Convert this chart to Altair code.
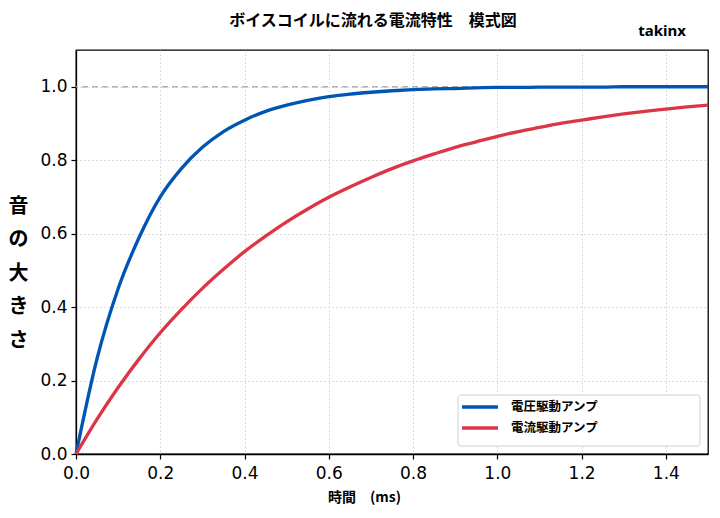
import altair as alt
import pandas as pd

# time (ms)
t_ms = [0.0, 0.05, 0.1, 0.15, 0.2, 0.25, 0.3, 0.35, 0.4, 0.45, 0.5, 0.55, 0.6, 0.65, 0.7, 0.75,
        0.8, 0.85, 0.9, 0.95, 1.0, 1.05, 1.1, 1.15, 1.2, 1.25, 1.3, 1.35, 1.4, 1.45, 1.5]
# voltage-drive amplifier (blue)
voltage_drive = [0.0, 0.26, 0.45, 0.59, 0.70, 0.777, 0.835, 0.878, 0.909, 0.933, 0.950, 0.963,
                 0.973, 0.980, 0.985, 0.989, 0.992, 0.994, 0.995, 0.997, 0.998, 0.998, 0.999,
                 0.999, 0.999, 0.999, 1.0, 1.0, 1.0, 1.0, 1.0]
# current-drive amplifier (red)
current_drive = [0.0, 0.095, 0.181, 0.259, 0.330, 0.393, 0.451, 0.503, 0.551, 0.593, 0.632, 0.667,
                 0.699, 0.727, 0.753, 0.777, 0.798, 0.817, 0.835, 0.850, 0.865, 0.878, 0.889,
                 0.900, 0.909, 0.918, 0.926, 0.933, 0.939, 0.945, 0.950]

series_names = ["電圧駆動アンプ", "電流駆動アンプ"]
series_colors = ["#0055b3", "#dc3545"]
x_ticks = [0.0, 0.2, 0.4, 0.6, 0.8, 1.0, 1.2, 1.4]
y_ticks = [0.0, 0.2, 0.4, 0.6, 0.8, 1.0]
ref_level = [1.0]
title_text = ["ボイスコイルに流れる電流特性　模式図"]
brand_text = ["takinx"]

df = pd.DataFrame({
    "t": t_ms * 2,
    "v": voltage_drive + current_drive,
    "s": [series_names[0]] * len(t_ms) + [series_names[1]] * len(t_ms),
})

JP = "Noto Sans CJK JP"
xs = alt.Scale(domain=[0, 1.5], nice=False)
ys = alt.Scale(domain=[0, 1.1], nice=False)

x_enc = alt.X("t:Q", scale=xs,
              axis=alt.Axis(values=x_ticks, format=".1f", title="時間　(ms)", labelFlush=False,
                            titleFont=JP, titleFontSize=14, titleFontWeight="bold",
                            titleX=288, titleY=43, titleBaseline="middle", titleAlign="center",
                            labelPadding=6))
y_enc = alt.Y("v:Q", scale=ys,
              axis=alt.Axis(values=y_ticks, format=".1f", title=["音", "の", "大", "き", "さ"],
                            labelFlush=False,
                            titleFont=JP, titleFontSize=20, titleFontWeight="bold",
                            titleAngle=0, titleX=-58, titleY=146, titleAlign="center",
                            titleBaseline="top", titleLineHeight=33.5, labelPadding=4))

ref = alt.Chart(pd.DataFrame({"y": ref_level})).mark_rule(
    color="#b0b0b0", strokeDash=[6, 4], strokeWidth=1.5
).encode(y=alt.Y("y:Q", scale=ys))

lines = alt.Chart(df).mark_line(strokeWidth=3.3, interpolate="monotone").encode(
    x=x_enc, y=y_enc,
    color=alt.Color("s:N", scale=alt.Scale(domain=series_names, range=series_colors),
                    legend=None),
)

title = alt.Chart(pd.DataFrame({"txt": title_text})).mark_text(
    font=JP, fontSize=16, fontWeight="bold", align="center", baseline="middle",
    color="black"
).encode(text="txt:N", x=alt.value(297), y=alt.value(-29))

brand = alt.Chart(pd.DataFrame({"txt": brand_text})).mark_text(
    font="Noto Sans", fontSize=15, fontWeight="bold", align="center", baseline="middle",
    color="black"
).encode(text="txt:N", x=alt.value(586), y=alt.value(-19))

# legend (box, line swatches, labels)
one = pd.DataFrame({"k": [0]})
legend_layers = [
    alt.Chart(one).mark_rect(fill="white", stroke="#cccccc", strokeWidth=1, cornerRadius=3,
                             opacity=0.9).encode(
        x=alt.value(382), x2=alt.value(624), y=alt.value(345), y2=alt.value(396))
]
row_y = [357, 378]
for name, col, yy in zip(series_names, series_colors, row_y):
    legend_layers.append(
        alt.Chart(one).mark_rule(color=col, strokeWidth=3.5).encode(
            x=alt.value(386), x2=alt.value(422), y=alt.value(yy)))
    legend_layers.append(
        alt.Chart(pd.DataFrame({"name": [name]})).mark_text(
            font=JP, fontSize=12.5, fontWeight="bold", align="left", baseline="middle",
            color="black").encode(text="name:N", x=alt.value(435), y=alt.value(yy)))

chart = alt.layer(ref, lines, title, brand, *legend_layers).properties(
    width=632, height=404,
    autosize="none",
    padding={"left": 68, "top": 42, "right": 4, "bottom": 56},
).configure_view(
    stroke="black", strokeWidth=1.3
).configure_axis(
    labelFont="DejaVu Sans", labelFontSize=17, labelColor="black",
    domainColor="black", domainWidth=1.3, tickColor="black", tickSize=5, tickWidth=1.2,
    gridColor="#cccccc", gridDash=[1.5, 2.5], gridWidth=0.9, titleColor="black",
)

chart.save("out.html", embed_options={"renderer": "svg", "actions": False})
